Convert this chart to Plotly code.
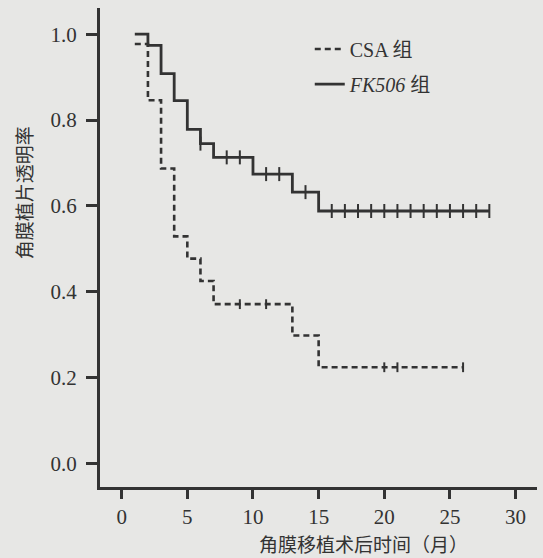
import plotly.graph_objects as go

# Kaplan-Meier style step data (time in months, survival proportion)
fk_time = [1, 2, 3, 4, 5, 6, 7, 10, 13, 15, 28]
fk_surv = [1.0, 0.974, 0.908, 0.845, 0.778, 0.745, 0.713, 0.674, 0.632, 0.588, 0.588]
fk_cens_time = [6, 8, 9, 11, 12, 14, 16, 17, 18, 19, 20, 21, 22, 23, 24, 25, 26, 27, 28]
fk_cens_surv = [0.745, 0.713, 0.713, 0.674, 0.674, 0.632,
                0.588, 0.588, 0.588, 0.588, 0.588, 0.588, 0.588,
                0.588, 0.588, 0.588, 0.588, 0.588, 0.588]

csa_time = [1, 2, 3, 4, 5, 6, 7, 13, 15, 26]
csa_surv = [0.977, 0.846, 0.687, 0.529, 0.477, 0.425, 0.371, 0.298, 0.224, 0.224]
csa_cens_time = [9, 11, 20, 21, 26]
csa_cens_surv = [0.371, 0.371, 0.224, 0.224, 0.224]

x_ticks = [0, 5, 10, 15, 20, 25, 30]
y_ticks = [0.0, 0.2, 0.4, 0.6, 0.8, 1.0]

ink = "#333333"
bg = "#e7e7e5"
serif = "Liberation Serif, Noto Sans CJK SC"

fig = go.Figure()
fig.add_trace(go.Scatter(
    x=csa_time, y=csa_surv, mode="lines", line_shape="hv",
    line=dict(color=ink, width=2.6, dash="6px,4px"),
    name="CSA 组", legendgroup="a"))
fig.add_trace(go.Scatter(
    x=fk_time, y=fk_surv, mode="lines", line_shape="hv",
    line=dict(color=ink, width=2.8),
    name="<i>FK506</i> 组", legendgroup="b"))
fig.add_trace(go.Scatter(
    x=csa_cens_time, y=csa_cens_surv, mode="markers", showlegend=False,
    marker=dict(symbol="line-ns", size=7, line=dict(color=ink, width=2))))
fig.add_trace(go.Scatter(
    x=fk_cens_time, y=fk_cens_surv, mode="markers", showlegend=False,
    marker=dict(symbol="line-ns", size=10, line=dict(color=ink, width=2))))

fig.update_layout(
    width=543, height=558,
    margin=dict(l=100, r=6, t=8, b=71),
    paper_bgcolor=bg, plot_bgcolor=bg,
    font=dict(family=serif, color=ink, size=20),
    showlegend=True,
    legend=dict(x=0.48, y=0.955, xanchor="left", yanchor="top",
                bgcolor="rgba(0,0,0,0)", tracegroupgap=6,
                font=dict(family=serif, size=20, color=ink)),
    xaxis=dict(range=[-1.65, 31.63], tickvals=x_ticks, ticks="outside",
               ticklen=9, tickwidth=2.5, tickcolor=ink,
               showline=True, linewidth=3, linecolor=ink,
               showgrid=False, zeroline=False,
               tickfont=dict(family=serif, size=21, color=ink)),
    yaxis=dict(range=[-0.055, 1.061], tickvals=y_ticks, tickformat=".1f",
               ticks="outside", ticklen=11, tickwidth=2.5, tickcolor=ink,
               ticklabelstandoff=5,
               showline=True, linewidth=3, linecolor=ink,
               showgrid=False, zeroline=False,
               tickfont=dict(family=serif, size=21, color=ink)),
    annotations=[
        dict(text="角膜植片透明率", xref="paper", yref="paper",
             x=0, y=0.6135, xanchor="center", yanchor="middle",
             xshift=-77, textangle=-90, showarrow=False,
             font=dict(family="Noto Sans CJK SC", size=19, color=ink)),
        dict(text="角膜移植术后时间（月）", xref="paper", yref="paper",
             x=0.5, y=0, xanchor="center", yanchor="middle",
             xshift=363 - 318.5, yshift=-(543 - 486.7), showarrow=False,
             font=dict(family="Noto Sans CJK SC", size=19, color=ink)),
    ],
)

fig.write_html(
    "out.html",
    config={"displayModeBar": False},
    post_script="document.body.style.margin='0';"
                "document.body.style.background='#e7e7e5';",
)
